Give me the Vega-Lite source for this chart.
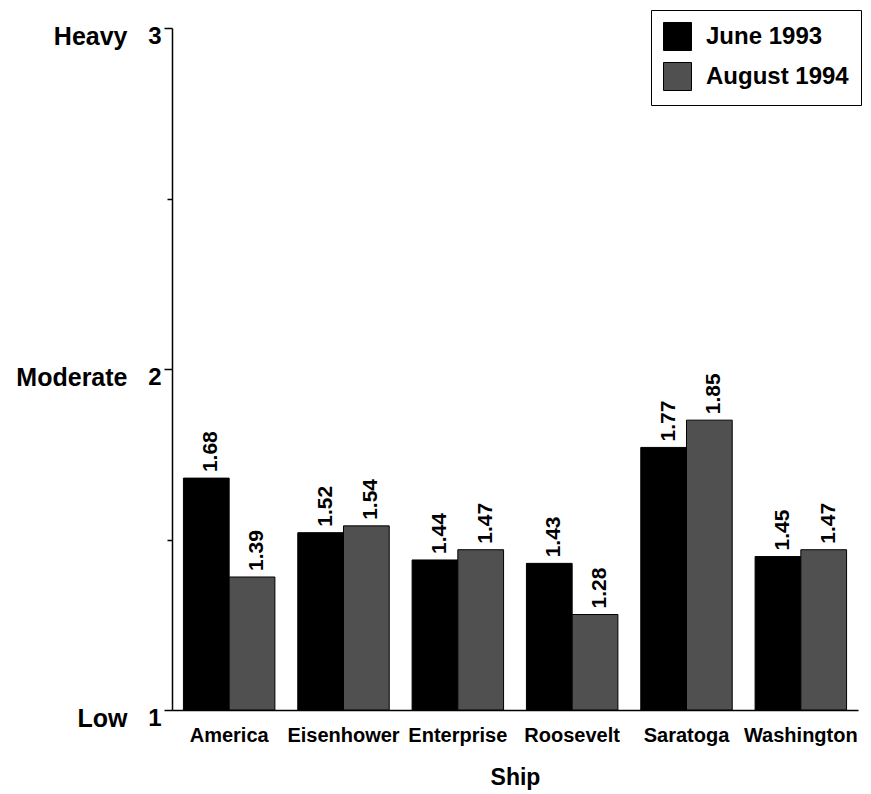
{
  "$schema": "https://vega.github.io/schema/vega-lite/v6.json",
  "autosize": {"type": "none"},
  "padding": {"left": 172, "top": 28, "right": 13, "bottom": 84},
  "width": 686,
  "height": 682,
  "config": {
    "font": "Liberation Sans",
    "view": {"stroke": null},
    "axis": {"domainColor": "black", "tickColor": "black", "labelColor": "black", "titleColor": "black", "grid": false, "labelFont": "Liberation Sans", "titleFont": "Liberation Sans"}
  },
  "data": {
    "values": [
      {"Ship": "America", "Period": "June 1993", "value": 1.68},
      {"Ship": "America", "Period": "August 1994", "value": 1.39},
      {"Ship": "Eisenhower", "Period": "June 1993", "value": 1.52},
      {"Ship": "Eisenhower", "Period": "August 1994", "value": 1.54},
      {"Ship": "Enterprise", "Period": "June 1993", "value": 1.44},
      {"Ship": "Enterprise", "Period": "August 1994", "value": 1.47},
      {"Ship": "Roosevelt", "Period": "June 1993", "value": 1.43},
      {"Ship": "Roosevelt", "Period": "August 1994", "value": 1.28},
      {"Ship": "Saratoga", "Period": "June 1993", "value": 1.77},
      {"Ship": "Saratoga", "Period": "August 1994", "value": 1.85},
      {"Ship": "Washington", "Period": "June 1993", "value": 1.45},
      {"Ship": "Washington", "Period": "August 1994", "value": 1.47}
    ]
  },
  "encoding": {
    "x": {
      "field": "Ship", "type": "nominal",
      "scale": {"paddingInner": 0.2, "paddingOuter": 0.1},
      "axis": {"title": "Ship", "titleFontSize": 23, "titleFontWeight": "bold", "titlePadding": 21, "labelFontSize": 20, "labelFontWeight": "bold", "labelAngle": 0, "ticks": false, "labelPadding": 15, "domainWidth": 1.5}
    },
    "xOffset": {"field": "Period", "type": "nominal", "sort": ["June 1993", "August 1994"], "scale": {"paddingInner": 0, "paddingOuter": 0}}
  },
  "layer": [
    {
      "mark": {"type": "bar", "stroke": "black", "strokeWidth": 1},
      "encoding": {
        "y": {
          "field": "value", "type": "quantitative",
          "scale": {"domain": [1, 3], "zero": false, "nice": false},
          "axis": {
            "title": null,
            "values": [1, 1.5, 2, 2.5, 3],
            "labelExpr": "datum.value % 1 == 0 ? format(datum.value, 'd') : ''",
            "labelFontSize": 24, "labelFontWeight": "bold", "labelPadding": 3, "labelOffset": 8,
            "tickSize": {"condition": {"test": "datum.value % 1 == 0", "value": 8}, "value": 5},
            "domainWidth": 1.5, "tickWidth": 1.5
          }
        },
        "y2": {"datum": 1},
        "fill": {
          "field": "Period", "type": "nominal",
          "scale": {"domain": ["June 1993", "August 1994"], "range": ["#000000", "#505050"]},
          "legend": {
            "title": null, "orient": "none", "legendX": 479, "legendY": -18,
            "strokeColor": "black", "padding": 12, "rowPadding": 7,
            "symbolType": "square", "symbolSize": 784, "symbolStrokeColor": "black", "symbolStrokeWidth": 1,
            "labelFontSize": 24, "labelFontWeight": "bold", "labelFont": "Liberation Sans", "labelColor": "black", "labelOffset": 14
          }
        }
      }
    },
    {
      "mark": {"type": "text", "angle": -90, "align": "left", "baseline": "middle", "dx": 6, "dy": 5, "font": "Liberation Sans", "fontSize": 21, "fontWeight": "bold", "color": "black"},
      "encoding": {
        "y": {
          "field": "value", "type": "quantitative",
          "scale": {"domain": [1, 3], "zero": false, "nice": false},
          "axis": {
            "orient": "left", "title": null, "values": [1, 2, 3],
            "labelExpr": "datum.value == 1 ? 'Low' : datum.value == 2 ? 'Moderate' : 'Heavy'",
            "labelFontSize": 25, "labelFontWeight": "bold", "labelPadding": 45, "labelOffset": 8,
            "ticks": false, "domain": false
          }
        },
        "text": {"field": "value", "type": "quantitative", "format": ".2f"}
      }
    }
  ],
  "resolve": {"scale": {"y": "independent"}, "axis": {"y": "independent"}}
}
